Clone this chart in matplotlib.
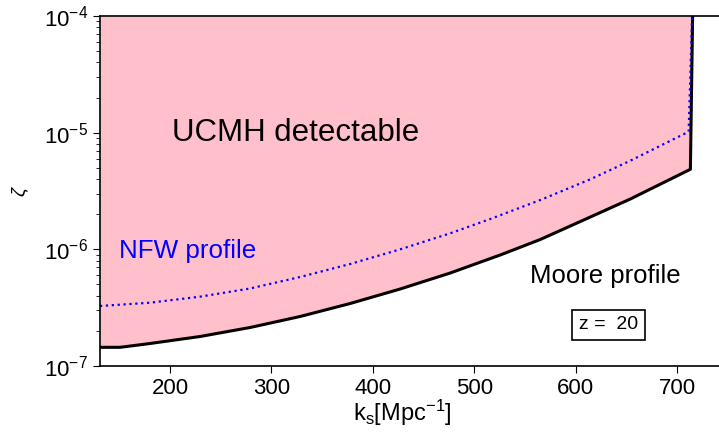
import numpy as np
import matplotlib
matplotlib.use("Agg")
import matplotlib.pyplot as plt

plt.rcParams['font.family'] = ['Liberation Sans', 'DejaVu Sans']
plt.rcParams['mathtext.fontset'] = 'custom'
plt.rcParams['mathtext.rm'] = 'Liberation Sans'
plt.rcParams['mathtext.it'] = 'Liberation Sans:italic'

# Moore profile bound (black)
k_moore = [131.0, 150.7, 180.3, 229.6, 278.9, 328.2, 377.5, 426.8, 476.1,
           525.4, 564.9, 614.2, 653.6, 712.8, 715.0]
zeta_moore = [1.446e-7, 1.446e-7, 1.559e-7, 1.790e-7, 2.138e-7, 2.657e-7, 3.433e-7,
              4.571e-7, 6.267e-7, 8.945e-7, 1.2145e-6, 1.893e-6, 2.700e-6, 4.853e-6, 1e-4]

# NFW profile bound (blue dotted)
k_nfw = [131.0, 180.3, 229.6, 278.9, 328.2, 377.5, 426.8, 476.1, 515.6,
         564.9, 614.2, 653.6, 711.1, 714.5]
zeta_nfw = [3.268e-7, 3.488e-7, 3.928e-7, 4.617e-7, 5.793e-7, 7.486e-7, 1.0e-6,
            1.372e-6, 1.820e-6, 2.647e-6, 3.985e-6, 5.750e-6, 1.019e-5, 1e-4]

fig = plt.figure(figsize=(7.19, 4.34), dpi=100)
ax = fig.add_axes([100 / 719, 68 / 434, 619 / 719, 350 / 434])

ax.fill_between(k_moore, zeta_moore, 1e-4, color='pink', lw=0)
ax.plot(k_moore, zeta_moore, color='black', lw=2.2)
ax.plot(k_nfw, zeta_nfw, color='blue', lw=1.6, ls=':')

ax.set_yscale('log')
ax.set_xlim(131, 741)
ax.set_ylim(1e-7, 1e-4)
ax.set_xticks([200, 300, 400, 500, 600, 700])

ax.text(324, 1e-5, 'UCMH detectable', fontsize=22.5, ha='center', va='center')
ax.text(150, 9.6e-7, 'NFW profile', fontsize=18.7, color='blue', ha='left', va='center')
ax.text(629, 5.9e-7, 'Moore profile', fontsize=18.5, ha='center', va='center')
ax.text(632, 2.25e-7, 'z =  20', fontsize=14, ha='center', va='center',
        bbox=dict(boxstyle='square,pad=0.35', fc='white', ec='black', lw=1.2))

ax.set_xlabel(r'k$_\mathrm{s}$[Mpc$^{-1}$]', fontsize=17)
ax.xaxis.set_label_coords(0.488, -0.09)
ax.set_ylabel(r'$\zeta$', fontsize=14)
ax.yaxis.set_label_coords(-0.112, 0.5)

ax.spines['right'].set_visible(False)
for s in ax.spines.values():
    s.set_linewidth(1.2)
ax.tick_params(axis='both', which='major', labelsize=16, direction='out', length=5)
ax.tick_params(axis='y', which='minor', length=3)
ax.tick_params(top=False, right=False)

fig.savefig('out.png', dpi=100)
